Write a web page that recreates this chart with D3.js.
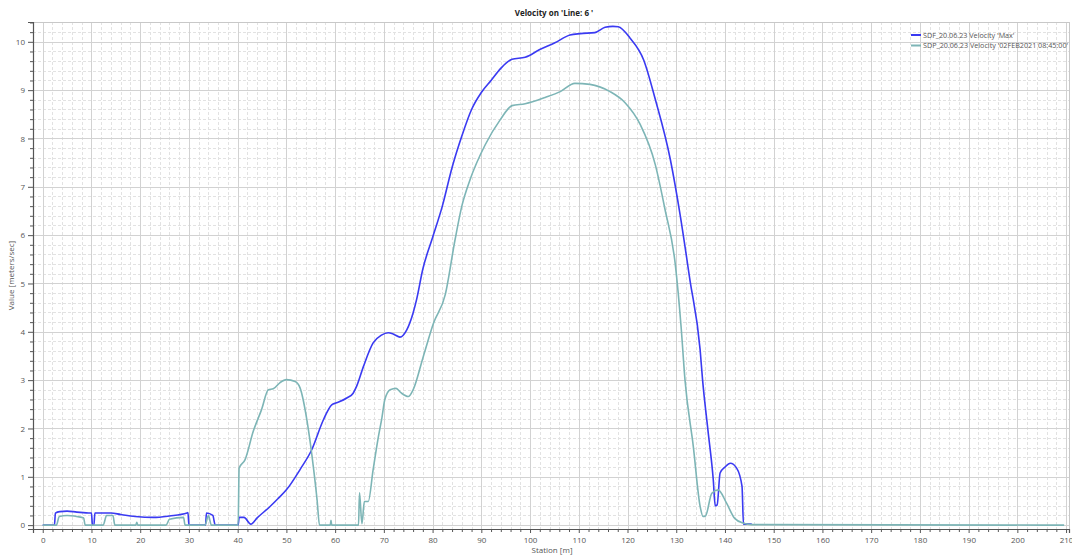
<!DOCTYPE html>
<html>
<head>
<meta charset="utf-8">
<script src="https://cdn.jsdelivr.net/npm/d3@7"></script>
<style>
  body { margin: 0; background: #fff; }
  text { font-family: "Open Sans", "Noto Sans", sans-serif; }
</style>
</head>
<body>
<div id="chart"></div>
<script>
const width = 1072,
   height = 555,
   plot = {left: 33, right: 1069, top: 22, bottom: 529};

// series 1: SDF_20.06.23 Velocity 'Max'
const maxStation = [0, 2.4, 2.6, 3.5, 5, 7, 9.8, 10.0, 10.2, 10.5, 10.7, 14, 16, 19, 22.7, 26, 29.6, 29.8, 30.0,
   33.4, 33.6, 34.9, 35.4, 40.1, 40.3, 41.3, 42.7, 44, 46.7, 48.3, 50, 52.8, 55.2, 57.6, 59.3, 60.3, 62.4, 63.7,
   64.4, 65.8, 67.8, 69.5, 70.9, 72, 73.3, 74.7, 76.0, 76.7, 78, 80, 82, 84, 86, 88, 90, 92, 94,
   96.3, 99, 102, 105.1, 108.2, 110.3, 113.3, 115.4, 117, 118.1, 120.5, 123.3, 125.7, 128.8, 130.8, 132.8,
   134.9, 135.4, 136.5, 137.6, 138, 138.4, 139, 140, 141.1, 142.4, 143.5, 143.8, 145.5];
const maxVelocity = [0, 0, 0.25, 0.28, 0.29, 0.27, 0.25, 0.25, 0, 0, 0.25, 0.25, 0.22, 0.18, 0.16, 0.19, 0.25, 0.26, 0,
   0, 0.25, 0.2, 0, 0, 0.16, 0.16, 0.02, 0.15, 0.39, 0.55, 0.73, 1.15, 1.56, 2.18, 2.49, 2.53, 2.63, 2.73,
   2.87, 3.28, 3.77, 3.93, 3.98, 3.95, 3.89, 4.04, 4.39, 4.66, 5.3, 5.95, 6.6, 7.4, 8.05, 8.6, 8.95, 9.2, 9.45,
   9.64, 9.68, 9.84, 9.98, 10.14, 10.17, 10.19, 10.3, 10.32, 10.31, 10.08, 9.63, 8.81, 7.56, 6.42, 5.08,
   3.63, 3.01, 1.97, 0.94, 0.4, 0.42, 1.08, 1.2, 1.28, 1.18, 0.8, 0.02, 0.02];

// series 2: SDP_20.06.23 Velocity '02FEB2021 08:45:00'
const obsStation = [0, 2.8, 3.4, 5, 8, 8.4, 8.7, 12.4, 13.1, 14.4, 14.8, 19.1, 19.3, 19.5, 25.3, 26, 28.9, 29.2,
   33.3, 34, 34.6, 40.1, 40.3, 41.5, 43.2, 44.9, 46.3, 47.3, 48.7, 50, 51.8, 52.8, 54.2, 55.6, 56.3, 56.8,
   59, 59.15, 59.3, 64.8, 65.0, 65.5, 66, 66.8, 67.8, 68.9, 69.6, 70.2, 71.3, 72.5, 73.5, 75, 76, 78.1, 80.2,
   82.6, 84.6, 86, 87.7, 90.8, 93.9, 96.3, 99, 103.1, 106.2, 109.2, 112.3, 116.4, 119.5, 122.6, 125.7, 127.7,
   129.8, 131, 131.8, 133.5, 134.9, 135.5, 136, 137.3, 138.6, 140.3, 142, 143.8, 145.5, 209.6];
const obsVelocity = [0, 0, 0.18, 0.2, 0.16, 0.15, 0, 0, 0.2, 0.2, 0, 0, 0.06, 0, 0, 0.12, 0.16, 0,
   0, 0.2, 0, 0, 1.18, 1.35, 1.94, 2.39, 2.8, 2.82, 2.95, 3.01, 2.97, 2.84, 2.18, 1.15, 0.52, 0,
   0, 0.1, 0, 0, 0.67, 0.03, 0.49, 0.49, 1.15, 1.84, 2.22, 2.6, 2.8, 2.83, 2.74, 2.66, 2.8, 3.49, 4.18,
   4.77, 5.9, 6.6, 7.15, 7.87, 8.39, 8.68, 8.72, 8.85, 8.97, 9.14, 9.12, 8.97, 8.74, 8.29, 7.46, 6.53,
   5.4, 4.1, 3.0, 1.63, 0.39, 0.18, 0.19, 0.66, 0.73, 0.46, 0.14, 0.04, 0.01, 0];

const seriesNames = ["SDF_20.06.23 Velocity 'Max'", "SDP_20.06.23 Velocity '02FEB2021 08:45:00'"];
const seriesColors = ['#3a3af2', '#7db5b6'];

const svg = d3.select('#chart')
   .append('svg')
   .attr('viewBox', [0, 0, width, height])
   .attr('width', width)
   .attr('height', height);

const x = d3.scaleLinear().domain([-2, 210.6]).range([plot.left, plot.right]);
const y = d3.scaleLinear().domain([-0.08, 10.41]).range([plot.bottom, plot.top]);
const px = v => Math.round(x(v)) + 0.5;
const py = v => Math.round(y(v)) + 0.5;

const xMajor = d3.range(0, 211, 10);
const xMinor = d3.range(0, 211, 2).filter(d => d % 10 !== 0);
const yMajor = d3.range(0, 11, 1);
const yMinor = d3.range(0, 10.41, 0.2).map(d => +d.toFixed(1)).filter(d => Math.abs(d - Math.round(d)) > 0.01);

// grid
const grid = svg.append('g');
grid.selectAll('.xminor').data(xMinor).join('line')
   .attr('x1', px).attr('x2', px)
   .attr('y1', plot.top).attr('y2', plot.bottom)
   .attr('stroke', '#e2e2e2').attr('stroke-dasharray', '3,2');
grid.selectAll('.yminor').data(yMinor).join('line')
   .attr('y1', py).attr('y2', py)
   .attr('x1', plot.left).attr('x2', plot.right)
   .attr('stroke', '#e2e2e2').attr('stroke-dasharray', '3,2');
grid.selectAll('.xmajor').data(xMajor).join('line')
   .attr('x1', px).attr('x2', px)
   .attr('y1', plot.top).attr('y2', plot.bottom)
   .attr('stroke', '#d2d2d2');
grid.selectAll('.ymajor').data(yMajor).join('line')
   .attr('y1', py).attr('y2', py)
   .attr('x1', plot.left).attr('x2', plot.right)
   .attr('stroke', '#d2d2d2');

// frame
svg.append('rect')
   .attr('x', plot.left + 0.5).attr('y', plot.top + 0.5)
   .attr('width', plot.right - plot.left).attr('height', plot.bottom - plot.top)
   .attr('fill', 'none').attr('stroke', '#c8c8c8');

// axes
svg.append('g')
   .attr('transform', `translate(0, ${plot.bottom})`)
   .call(d3.axisBottom(x).tickValues(xMajor).tickSize(4).tickPadding(4).tickFormat(d3.format('d')));
svg.append('g')
   .attr('transform', `translate(0, ${plot.bottom})`)
   .call(d3.axisBottom(x).tickValues(xMinor).tickSize(3).tickFormat(''))
   .call(g => g.select('.domain').remove());

svg.append('g')
   .attr('transform', `translate(${plot.left}, 0)`)
   .call(d3.axisLeft(y).tickValues(yMajor).tickSize(5).tickPadding(3).tickFormat(d3.format('d')));
svg.append('g')
   .attr('transform', `translate(${plot.left}, 0)`)
   .call(d3.axisLeft(y).tickValues(yMinor).tickSize(3).tickFormat(''))
   .call(g => g.select('.domain').remove());

svg.selectAll('.domain').attr('stroke', '#555').attr('stroke-width', 1.2);
svg.selectAll('.tick line').attr('stroke', '#555');
svg.selectAll('.tick text').attr('fill', '#555').attr('font-size', 8)
   .attr('font-family', '"Open Sans", "Noto Sans", sans-serif');

// lines
const line = d3.line()
   .x(d => x(d[0]))
   .y(d => y(d[1]))
   .curve(d3.curveMonotoneX);

const maxData = maxStation.map((s, i) => [s, maxVelocity[i]]);
const obsData = obsStation.map((s, i) => [s, obsVelocity[i]]);

svg.append('path')
   .datum(maxData)
   .attr('d', line)
   .attr('fill', 'none')
   .attr('stroke', seriesColors[0])
   .attr('stroke-width', 1.6);

svg.append('path')
   .datum(obsData)
   .attr('d', line)
   .attr('fill', 'none')
   .attr('stroke', seriesColors[1])
   .attr('stroke-width', 1.6);

// title and labels
svg.append('text')
   .attr('x', 554).attr('y', 16)
   .attr('text-anchor', 'middle')
   .attr('font-size', 8).attr('font-weight', 'bold').attr('fill', '#222')
   .text("Velocity on 'Line: 6 '");

svg.append('text')
   .attr('x', 552).attr('y', 553)
   .attr('text-anchor', 'middle')
   .attr('font-size', 8).attr('fill', '#555')
   .text('Station [m]');

svg.append('text')
   .attr('transform', `translate(14, ${(plot.top + plot.bottom) / 2}) rotate(-90)`)
   .attr('text-anchor', 'middle')
   .attr('font-size', 8).attr('fill', '#555')
   .text('Value [meters/sec]');

// legend
const legend = svg.selectAll('.legend')
   .data(seriesNames)
   .join('g')
   .attr('transform', (d, i) => `translate(911, ${35 + i * 10.5})`);

legend.append('line')
   .attr('x1', 0).attr('x2', 10)
   .attr('stroke', (d, i) => seriesColors[i])
   .attr('stroke-width', 2);

legend.append('text')
   .attr('x', 12).attr('y', 2.5)
   .attr('font-size', 7.2).attr('fill', '#555')
   .text(d => d);
</script>
</body>
</html>
